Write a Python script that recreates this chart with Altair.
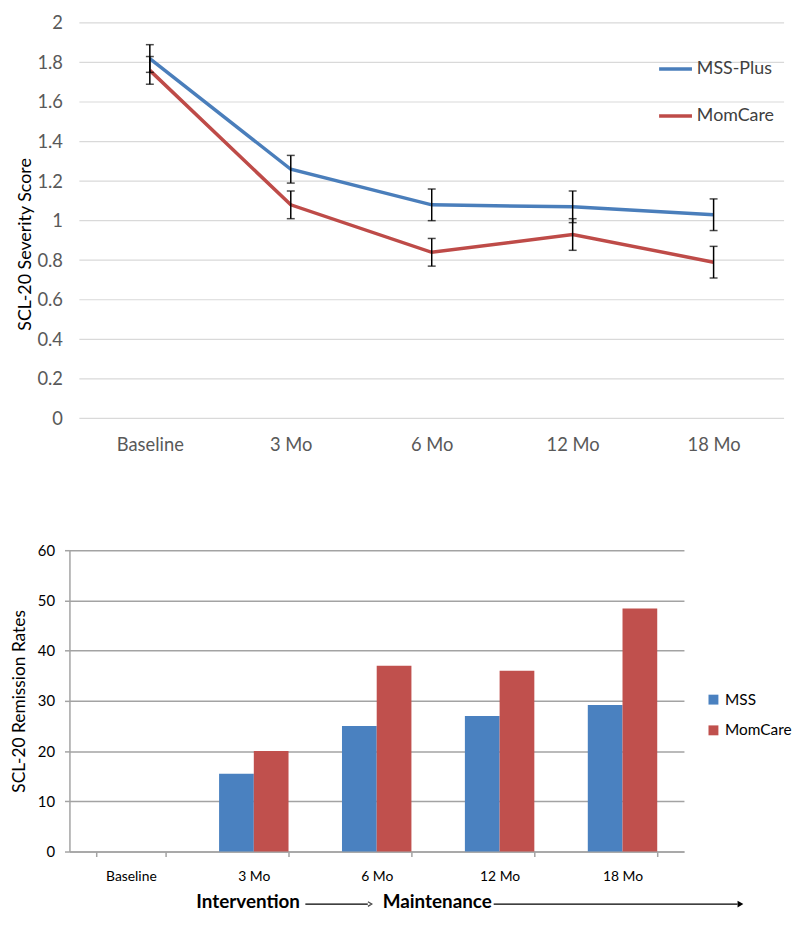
import altair as alt
import pandas as pd

# ---------------- data ----------------
timepoints = ["Baseline", "3 Mo", "6 Mo", "12 Mo", "18 Mo"]

line_groups = ["MSS-Plus", "MomCare"]
mss_plus_score = [1.82, 1.26, 1.08, 1.07, 1.03]
mss_plus_low = [1.75, 1.19, 1.00, 0.99, 0.95]
mss_plus_high = [1.89, 1.33, 1.16, 1.15, 1.11]
momcare_score = [1.76, 1.08, 0.84, 0.93, 0.79]
momcare_low = [1.69, 1.01, 0.77, 0.85, 0.71]
momcare_high = [1.83, 1.15, 0.91, 1.01, 0.87]

bar_groups = ["MSS", "MomCare"]
remission_mss = [None, 15.5, 25.0, 27.0, 29.2]
remission_momcare = [None, 20.0, 37.0, 36.0, 48.4]

severity_ticks = [0, 0.2, 0.4, 0.6, 0.8, 1, 1.2, 1.4, 1.6, 1.8, 2]
remission_ticks = [0, 10, 20, 30, 40, 50, 60]

line_colors = ["#4A7EBB", "#BE4B48"]
bar_colors = ["#4A81C0", "#C0504D"]

FONT = "Lato"

# ---------------- top chart ----------------
TOP_W, TOP_H = 721, 399
df_line = pd.DataFrame({
    "time": timepoints * 2,
    "group": [line_groups[0]] * 5 + [line_groups[1]] * 5,
    "score": mss_plus_score + momcare_score,
    "low": mss_plus_low + momcare_low,
    "high": mss_plus_high + momcare_high,
})
df_grid = pd.DataFrame({"tick": severity_ticks})

x_top = alt.X(
    "time:N", sort=timepoints,
    scale=alt.Scale(type="point", padding=0.5, domain=timepoints, range=[10, TOP_W]),
    axis=alt.Axis(title=None, labelAngle=0, domain=False, ticks=False, grid=False,
                  labelPadding=17, labelFontSize=18.5, labelColor="#595959", labelFont=FONT),
)
y_scale_top = alt.Scale(domain=[0, 2], nice=False)
y_axis_top = alt.Axis(title="SCL-20 Severity Score", values=severity_ticks, format="~g",
                      domain=False, ticks=False, grid=False, labelOverlap=False, labelSeparation=0,
                      labelPadding=7, labelFontSize=18.5, labelColor="#595959", labelFont=FONT,
                      titleFont=FONT, titleFontSize=18, titleFontWeight="normal",
                      titleColor="#000000", titlePadding=2, titleY=223)

grid_top = alt.Chart(df_grid).mark_rule(color="#D9D9D9", strokeWidth=1.2).encode(
    y=alt.Y("tick:Q", scale=y_scale_top, axis=y_axis_top),
    x=alt.value(10), x2=alt.value(TOP_W),
)

lines = alt.Chart(df_line).mark_line(strokeWidth=3.5).encode(
    x=x_top,
    y=alt.Y("score:Q", scale=y_scale_top, axis=y_axis_top),
    color=alt.Color("group:N", scale=alt.Scale(domain=line_groups, range=line_colors),
                    legend=alt.Legend(title=None, orient="none", legendX=593, legendY=28,
                                      symbolType="stroke", symbolStrokeWidth=3.5, symbolSize=1100,
                                      labelFontSize=18, labelColor="#404040", labelFont=FONT,
                                      labelOffset=3, rowPadding=19.5)),
    detail="group:N",
)

err_rule = alt.Chart(df_line).mark_rule(color="#000000", strokeWidth=1.5).encode(
    x=x_top, y=alt.Y("low:Q", scale=y_scale_top, axis=y_axis_top), y2="high:Q")
cap_low = alt.Chart(df_line).mark_tick(color="#000000", thickness=1.5, size=8).encode(
    x=x_top, y=alt.Y("low:Q", scale=y_scale_top, axis=y_axis_top))
cap_high = alt.Chart(df_line).mark_tick(color="#000000", thickness=1.5, size=8).encode(
    x=x_top, y=alt.Y("high:Q", scale=y_scale_top, axis=y_axis_top))

top = alt.layer(grid_top, lines, err_rule, cap_low, cap_high).properties(width=TOP_W, height=TOP_H)

# ---------------- bottom chart ----------------
df_bar = pd.DataFrame({
    "time": timepoints * 2,
    "group": [bar_groups[0]] * 5 + [bar_groups[1]] * 5,
    "rate": remission_mss + remission_momcare,
})

GRID = "#A3A3A3"
bars = alt.Chart(df_bar).mark_bar().encode(
    x=alt.X("time:N", sort=timepoints,
            scale=alt.Scale(domain=timepoints, paddingInner=0.435, paddingOuter=0.2175),
            axis=alt.Axis(title=None, labelAngle=0, tickBand="extent", domainColor=GRID,
                          domainWidth=1.5, tickColor=GRID, tickWidth=1.5, tickSize=5,
                          labelPadding=13, labelFontSize=14, labelColor="#000000", labelFont=FONT)),
    xOffset=alt.XOffset("group:N", sort=bar_groups,
                        scale=alt.Scale(domain=bar_groups, paddingInner=0, paddingOuter=0)),
    y=alt.Y("rate:Q", scale=alt.Scale(domain=[0, 60], nice=False),
            axis=alt.Axis(title="SCL-20 Remission Rates", values=remission_ticks,
                          domainColor=GRID, domainWidth=1.5, tickColor=GRID, tickWidth=1.5, tickSize=5,
                          grid=True, gridColor=GRID, gridWidth=1.5, labelOverlap=False,
                          labelPadding=10, labelFontSize=15, labelColor="#000000", labelFont=FONT,
                          titleFont=FONT, titleFontSize=17.5, titleFontWeight="normal",
                          titleColor="#000000", titlePadding=9)),
    color=alt.Color("group:N", scale=alt.Scale(domain=bar_groups, range=bar_colors),
                    legend=alt.Legend(title=None, orient="none", legendX=642, legendY=143,
                                      symbolType="square", symbolSize=100, symbolStrokeWidth=0,
                                      labelFontSize=15.5, labelColor="#000000", labelFont=FONT,
                                      labelOffset=4, rowPadding=14)),
)

# annotation below the bar chart: Intervention -> Maintenance ->
ann = pd.DataFrame({"label": ["Intervention", "Maintenance"], "px": [128, 316]})
ann_text = alt.Chart(ann).mark_text(align="left", baseline="middle", fontWeight="bold",
                                    fontSize=19, font=FONT, color="#000000").encode(
    text="label:N", x=alt.X("px:Q", scale=None), y=alt.value(355))

arrows = pd.DataFrame({"x0": [238, 428], "x1": [301, 674]})
ann_lines = alt.Chart(arrows).mark_rule(color="#000000", strokeWidth=1.3).encode(
    x=alt.X("x0:Q", scale=None), x2="x1:Q", y=alt.value(357))
head_open = alt.Chart(pd.DataFrame({"hx": [305]})).mark_point(
    shape="M -1 -0.6 L 0 0 L -1 0.6", filled=False, color="#000000", size=60, strokeWidth=1.3).encode(
    x=alt.X("hx:Q", scale=None), y=alt.value(357))
head_fill = alt.Chart(pd.DataFrame({"hx": [677]})).mark_point(
    shape="triangle-right", filled=True, color="#000000", size=45, opacity=1).encode(
    x=alt.X("hx:Q", scale=None), y=alt.value(357))

bottom = alt.layer(bars, ann_text, ann_lines, head_open, head_fill).resolve_scale(
    x="independent").properties(width=620, height=304)

chart = alt.vconcat(top, bottom, spacing=90).resolve_scale(
    color="independent"
).properties(
    padding={"left": 2, "top": 2, "right": 0, "bottom": 0}
).configure_view(stroke=None).configure_axis(labelFont=FONT, titleFont=FONT, labelOverlap=False)

chart.save("out.html", embed_options={"renderer": "svg", "actions": False})
